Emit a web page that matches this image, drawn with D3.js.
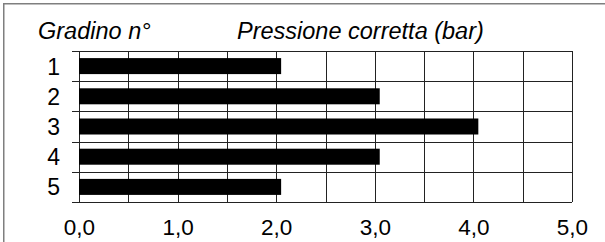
<!DOCTYPE html>
<html>
<head>
<meta charset="utf-8">
<script src="https://cdn.jsdelivr.net/npm/d3@7"></script>
<style>
  html, body { margin: 0; padding: 0; background: #fff; }
  svg { display: block; font-family: "Liberation Sans", Arial, sans-serif; }
</style>
</head>
<body>
<svg id="chart" width="605" height="242"></svg>
<script>
const categories = ["1", "2", "3", "4", "5"];
const values = [2.05, 3.05, 4.05, 3.05, 2.05];
const xTicks = [0, 1, 2, 3, 4, 5];
const xGrid = [0, 0.5, 1, 1.5, 2, 2.5, 3, 3.5, 4, 4.5, 5];
const yTitle = "Gradino n°";
const xTitle = "Pressione corretta (bar)";

const svg = d3.select("#chart");
const W = 605, H = 242;
const m = { left: 79, right: 33, top: 51, bottom: 40 };

// outer frame
svg.append("rect")
  .attr("x", 3.75).attr("y", 3.75)
  .attr("width", W + 10).attr("height", H + 10)
  .attr("fill", "none").attr("stroke", "#7f7f7f").attr("stroke-width", 1.5);

const x = d3.scaleLinear().domain([0, 5]).range([m.left, W - m.right]);
const y = d3.scaleBand().domain(categories).range([m.top, H - m.bottom]).paddingInner(0).paddingOuter(0);

const g = svg.append("g");

// vertical grid
g.selectAll("line.vg").data(xGrid).join("line")
  .attr("class", "vg")
  .attr("x1", d => Math.round(x(d)) + 0.5).attr("x2", d => Math.round(x(d)) + 0.5)
  .attr("y1", y.range()[0]).attr("y2", y.range()[1])
  .attr("stroke", "#222").attr("stroke-width", 1);

// horizontal grid (extends left as ticks)
const hLines = categories.map(c => y(c)).concat([y.range()[1]]);
g.selectAll("line.hg").data(hLines).join("line")
  .attr("class", "hg")
  .attr("x1", m.left - 7).attr("x2", x(5))
  .attr("y1", d => Math.round(d) + 0.5).attr("y2", d => Math.round(d) + 0.5)
  .attr("stroke", "#222").attr("stroke-width", 1);

// bars
const bh = y.bandwidth() * 0.53;
g.selectAll("rect.bar").data(values).join("rect")
  .attr("class", "bar")
  .attr("x", x(0))
  .attr("y", (d, i) => y(categories[i]) + (y.bandwidth() - bh) / 2)
  .attr("width", d => x(d) - x(0))
  .attr("height", bh)
  .attr("fill", "#000");

// x axis labels
const xAxis = d3.axisBottom(x).tickValues(xTicks).tickSize(0).tickPadding(0)
  .tickFormat(d => d3.format(".1f")(d).replace(".", ","));
const gx = svg.append("g").attr("transform", `translate(0,${y.range()[1]})`).call(xAxis);
gx.select(".domain").remove();
gx.selectAll("text")
  .attr("y", 32.5).attr("dy", 0)
  .attr("font-size", 22.5).attr("fill", "#000")
  .attr("font-family", '"Liberation Sans", Arial, sans-serif');

// y axis labels
const yAxis = d3.axisLeft(y).tickSize(0).tickPadding(0);
const gy = svg.append("g").attr("transform", `translate(${m.left - 19},0)`).call(yAxis);
gy.select(".domain").remove();
gy.selectAll("text")
  .attr("x", 0).attr("dy", "0.37em")
  .attr("font-size", 23).attr("fill", "#000")
  .attr("font-family", '"Liberation Sans", Arial, sans-serif');

// titles
svg.append("text").attr("x", 38).attr("y", 39)
  .attr("font-size", 23.5).attr("font-style", "italic").attr("fill", "#000")
  .text(yTitle);
svg.append("text").attr("x", 237).attr("y", 39)
  .attr("font-size", 23.5).attr("font-style", "italic").attr("fill", "#000")
  .text(xTitle);
</script>
</body>
</html>
